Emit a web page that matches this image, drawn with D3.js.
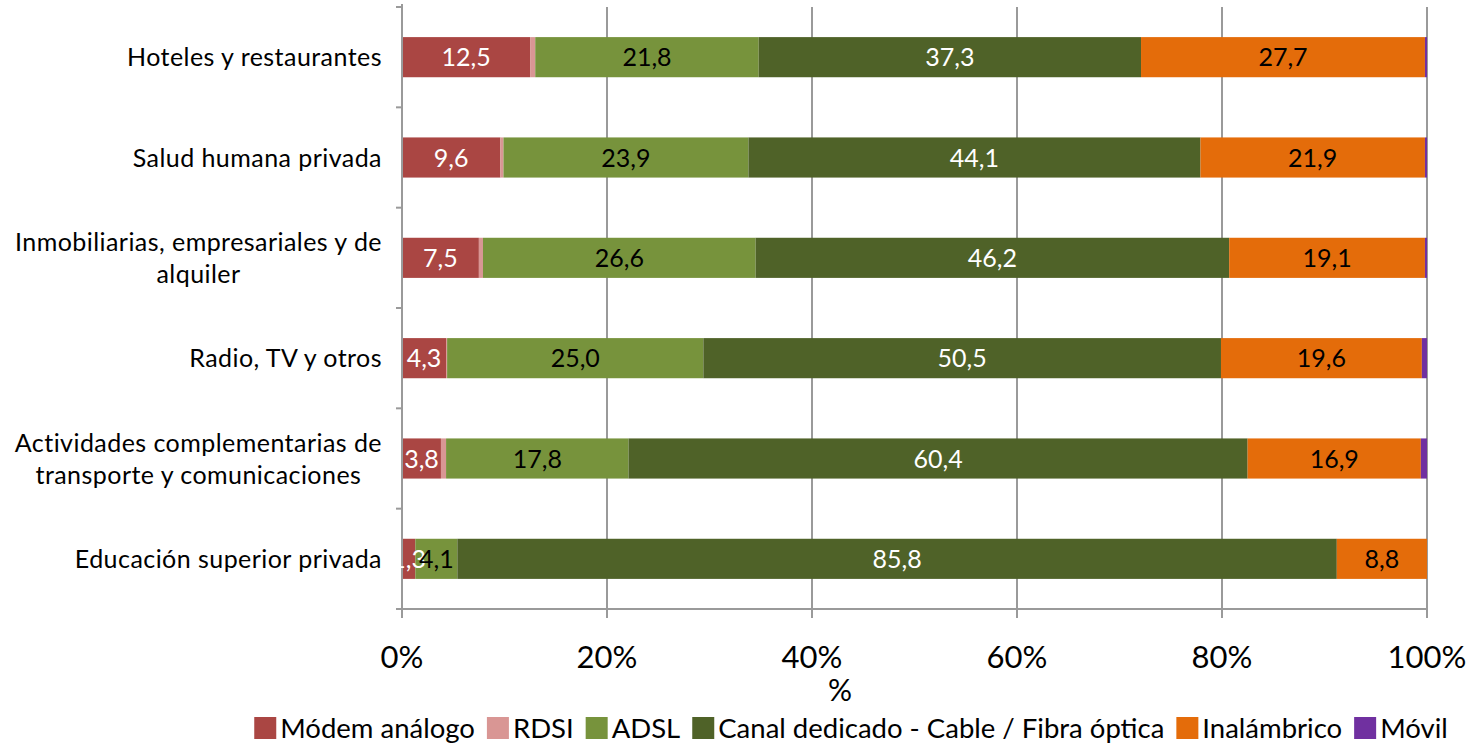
<!DOCTYPE html>
<html><head><meta charset="utf-8">
<script src="https://cdn.jsdelivr.net/npm/d3@7"></script>
<style>body{margin:0;background:#fff;} svg{display:block;font-family:Lato,"Open Sans",sans-serif;}</style>
</head><body>
<svg id="c" width="1480" height="745"></svg>
<script>
const categories = [
  ["Hoteles y restaurantes"],
  ["Salud humana privada"],
  ["Inmobiliarias, empresariales y de", "alquiler"],
  ["Radio, TV y otros"],
  ["Actividades complementarias de", "transporte y comunicaciones"],
  ["Educación superior privada"]
];
const seriesNames = ["Módem análogo", "RDSI", "ADSL", "Canal dedicado - Cable / Fibra óptica", "Inalámbrico", "Móvil"];
const modem      = [12.5, 9.6, 7.5, 4.3, 3.8, 1.3];
const rdsi       = [0.5, 0.3, 0.4, 0.1, 0.5, 0.0];
const adsl       = [21.8, 23.9, 26.6, 25.0, 17.8, 4.1];
const canal      = [37.3, 44.1, 46.2, 50.5, 60.4, 85.8];
const inalambrico= [27.7, 21.9, 19.1, 19.6, 16.9, 8.8];
const movil      = [0.2, 0.2, 0.2, 0.5, 0.6, 0.0];
const xTicks = [0, 20, 40, 60, 80, 100];
const xTickLabels = ["0%", "20%", "40%", "60%", "80%", "100%"];
const axisTitle = "%";

(function () {
const colors = ["#AA4643", "#D99694", "#77933C", "#4F6228", "#E46C0A", "#7030A0"];
const labelColors = ["#fff", null, "#000", "#fff", "#000", null];
const allSeries = [modem, rdsi, adsl, canal, inalambrico, movil];

const svg = d3.select("#c");
const pLeft = 402, pRight = 1427, pTop = 7, pBottom = 609;
const x = d3.scaleLinear().domain([0, 100]).range([pLeft, pRight]);
const y = d3.scaleBand().domain(d3.range(categories.length)).range([pTop, pBottom]).padding(0);
const barH = y.bandwidth() * 0.4;
const grid = "#9a9a9a";

svg.append("g").selectAll("line").data(xTicks.slice(1)).join("line")
  .attr("x1", d => x(d)).attr("x2", d => x(d)).attr("y1", 7).attr("y2", pBottom)
  .attr("stroke", grid).attr("stroke-width", 2);

const rows = categories.map((c, i) => {
  let acc = 0;
  return allSeries.map((s, k) => { const v = s[i]; const r = {i, k, x0: acc, x1: acc + v, v}; acc += v; return r; });
});

const gBars = svg.append("g");
rows.forEach(r => {
  gBars.selectAll(null).data(r).join("rect")
    .attr("x", d => x(d.x0)).attr("width", d => Math.max(0, x(d.x1) - x(d.x0)))
    .attr("y", d => y(d.i) + y.bandwidth() / 2 - barH / 2).attr("height", barH)
    .attr("fill", d => colors[d.k]);
});

svg.append("line").attr("x1", pLeft).attr("x2", pLeft).attr("y1", 4).attr("y2", pBottom)
  .attr("stroke", grid).attr("stroke-width", 2);
svg.append("line").attr("x1", pLeft - 1).attr("x2", pRight + 1).attr("y1", pBottom).attr("y2", pBottom)
  .attr("stroke", grid).attr("stroke-width", 2);
svg.append("g").selectAll("line").data(d3.range(categories.length + 1)).join("line")
  .attr("x1", pLeft - 6).attr("x2", pLeft).attr("y1", d => pTop + d * y.bandwidth()).attr("y2", d => pTop + d * y.bandwidth())
  .attr("stroke", grid).attr("stroke-width", 2);
svg.append("g").selectAll("line").data(xTicks).join("line")
  .attr("x1", d => x(d)).attr("x2", d => x(d)).attr("y1", pBottom).attr("y2", pBottom + 9)
  .attr("stroke", grid).attr("stroke-width", 2);

const gLab = svg.append("g");
rows.forEach(r => {
  gLab.selectAll(null).data(r.filter(d => labelColors[d.k] && d.v >= 1)).join("text")
    .attr("x", d => x((d.x0 + d.x1) / 2)).attr("y", d => y(d.i) + y.bandwidth() / 2)
    .attr("dy", "0.36em").attr("text-anchor", "middle")
    .attr("font-size", 25).attr("fill", d => labelColors[d.k])
    .text(d => d.v.toFixed(1).replace(".", ","));
});

categories.forEach((lines, i) => {
  const g = svg.append("g");
  const cy = y(i) + y.bandwidth() / 2;
  const lh = 32;
  const ts = lines.map((t, j) => g.append("text").attr("font-size", 25).attr("letter-spacing", 0.45).attr("fill", "#000")
    .attr("y", cy + (j - (lines.length - 1) / 2) * lh).attr("dy", "0.36em").attr("text-anchor", "middle").text(t));
  const maxW = d3.max(ts, t => t.node().getComputedTextLength());
  ts.forEach(t => t.attr("x", 382 - maxW / 2));
});

svg.append("g").selectAll("text").data(xTicks).join("text")
  .attr("x", d => x(d)).attr("y", 657).attr("dy", "0.36em").attr("text-anchor", "middle")
  .attr("font-size", 31).attr("fill", "#000").text((d, i) => xTickLabels[i]);
svg.append("text").attr("x", 840).attr("y", 690).attr("dy", "0.36em").attr("text-anchor", "middle")
  .attr("font-size", 30).attr("fill", "#000").text(axisTitle);

const lg = svg.append("g");
const items = [];
seriesNames.forEach((n, k) => {
  const it = lg.append("g");
  it.append("rect").attr("x", 0).attr("y", -11).attr("width", 22).attr("height", 22).attr("fill", colors[k]);
  const t = it.append("text").attr("x", 26).attr("dy", "0.36em").attr("font-size", 27.5).attr("fill", "#000").text(n);
  const w = 26 + t.node().getComputedTextLength();
  items.push({it, w});
});
const gap = 12;
const total = d3.sum(items, d => d.w) + gap * (items.length - 1);
let pos = 851 - total / 2;
items.forEach(d => { d.it.attr("transform", `translate(${pos},728)`); pos += d.w + gap; });
})();
</script>
</body></html>
